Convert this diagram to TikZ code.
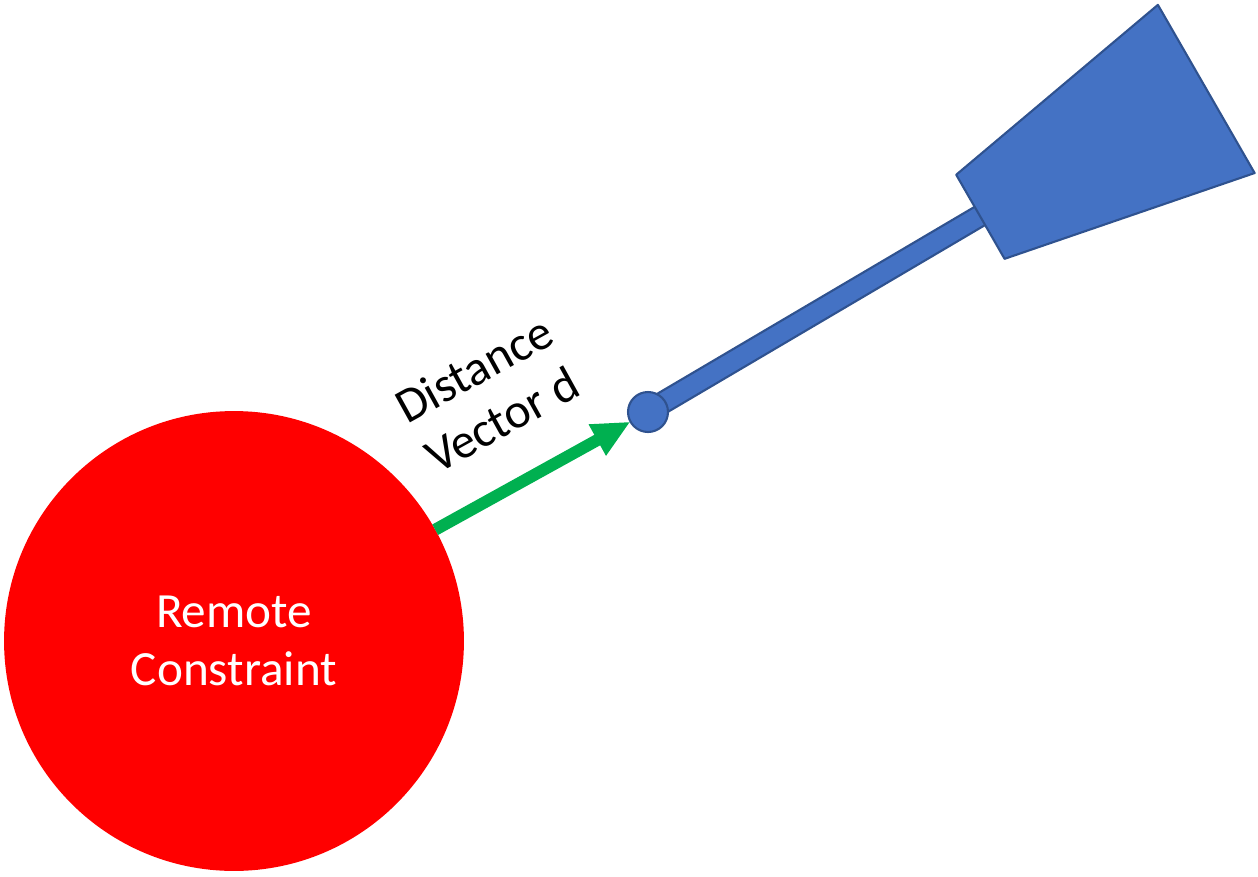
\documentclass[tikz,border=0pt]{standalone}
\usepackage{fontspec}
\setmainfont{Carlito}
\usetikzlibrary{arrows.meta, positioning}
\definecolor{shapeblue}{HTML}{4472C4}
\definecolor{edgeblue}{HTML}{2F528F}
\definecolor{vecgreen}{HTML}{00B050}

\begin{document}
\begin{tikzpicture}[
    x=0.02cm, y=-0.02cm,
    every node/.style={font=\fontsize{28}{33}\selectfont},
    constraint/.style={circle, fill=red, minimum size=9.2cm, inner sep=0pt, outer sep=0pt, text=white, align=center},
    joint/.style={circle, fill=shapeblue, draw=edgeblue, line width=1.2pt, minimum size=0.8cm, inner sep=0pt, outer sep=0pt},
    part/.style={fill=shapeblue, draw=edgeblue, line width=1.2pt, line join=round},
    vec/.style={vecgreen, line width=0.24cm, -{Triangle[length=0.76cm, width=0.66cm]}}
  ]
    \useasboundingbox (0,0) rectangle (1258,876);
    \node[constraint] (rc) at (234,641) {Remote\\Constraint};
    \coordinate (pivot) at (648,412);
    \begin{scope}[shift={(pivot)}, rotate=30.5]
      \draw[part] (0,-11) rectangle (395,10);
      \draw[part] (386,-48) -- (646,-92) -- (644,102) -- (385,49) -- cycle;
    \end{scope}
    \node[joint] (joint) at (pivot) {};
    \draw[vec] (rc) -- node[pos=0.5, sloped, above=0.7cm, align=center, text=black] {Distance\\Vector d} (joint);
\end{tikzpicture}
\end{document}
